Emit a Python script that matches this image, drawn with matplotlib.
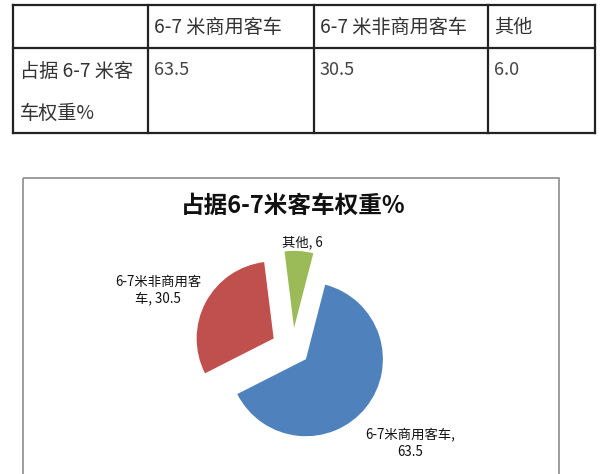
import matplotlib
matplotlib.use("Agg")
import matplotlib.pyplot as plt
from matplotlib.patches import Rectangle

plt.rcParams['font.family'] = ['Noto Sans CJK SC', 'DejaVu Sans']

# ---- data ----
categories = ['6-7米商用客车', '6-7米非商用客车', '其他']
table_headers = ['6-7 米商用客车', '6-7 米非商用客车', '其他']
row_label = ['占据 6-7 米客', '车权重%']
values = [63.5, 30.5, 6.0]
title = '占据6-7米客车权重%'
pie_labels = ['6-7米商用客车,\n63.5', '6-7米非商用客\n车, 30.5', '其他, 6']

colors = ['#4F81BD', '#C0504D', '#9BBB59']
explode = [0.22, 0.28, 0.27]

W, H = 600, 474
fig = plt.figure(figsize=(W / 100, H / 100), dpi=100)
fig.patch.set_facecolor('white')

# background axes in pixel coordinates
bg = fig.add_axes([0, 0, 1, 1])
bg.set_xlim(0, W)
bg.set_ylim(H, 0)
bg.axis('off')

# ---- table ----
tl, tr = 13.3, 595
tt, tm, tb = 5, 48.3, 133.3
cols = [tl, 148.3, 314, 487.7, tr]
lc = '#222222'
lw = 1.6
for y in (tt, tm, tb):
    bg.plot([tl, tr], [y, y], color=lc, lw=lw, solid_capstyle='projecting')
for x in cols:
    bg.plot([x, x], [tt, tb], color=lc, lw=lw, solid_capstyle='projecting')

tcol = '#333333'
fs_tab = 13.8
for i, h in enumerate(table_headers):
    bg.text(cols[i + 1] + 6, 27.3, h, fontsize=fs_tab, color=tcol,
            va='center', ha='left')
bg.text(cols[0] + 7, 71.7, row_label[0], fontsize=fs_tab, color=tcol,
        va='center', ha='left')
bg.text(cols[0] + 7, 113.3, row_label[1], fontsize=fs_tab, color=tcol,
        va='center', ha='left')
for i, v in enumerate(values):
    bg.text(cols[i + 1] + 6, 69.5, f'{v:.1f}', fontsize=13, color='#444444',
            va='center', ha='left')

# ---- chart frame ----
bg.add_patch(Rectangle((23.3, 178.3), 559 - 23.3, 300, fill=False,
                       edgecolor='#8c8c8c', lw=1.2))
bg.text(293.5, 206, title, fontsize=17, fontweight='bold', color='#111111',
        ha='center', va='center')

# ---- pie ----
cx, cy, r = 292.7, 348.6, 77.0
half = 1.25 * r
ax = fig.add_axes([(cx - half) / W, (H - cy - half) / H, 2 * half / W, 2 * half / H])
ax.pie(values, colors=colors, explode=explode, startangle=75.5,
       counterclock=False, radius=1.0,
       wedgeprops=dict(linewidth=0))
ax.set_xlim(-1.25, 1.25)
ax.set_ylim(-1.25, 1.25)
ax.set_aspect('equal')
ax.axis('off')

label_pos = [(410, 443.7), (158, 290), (302.5, 241.8)]
for lab, (x, y) in zip(pie_labels, label_pos):
    bg.text(x, y, lab, fontsize=9.6, color='#111111', ha='center', va='center',
            linespacing=1.2)

fig.savefig('out.png', dpi=100, facecolor='white')
